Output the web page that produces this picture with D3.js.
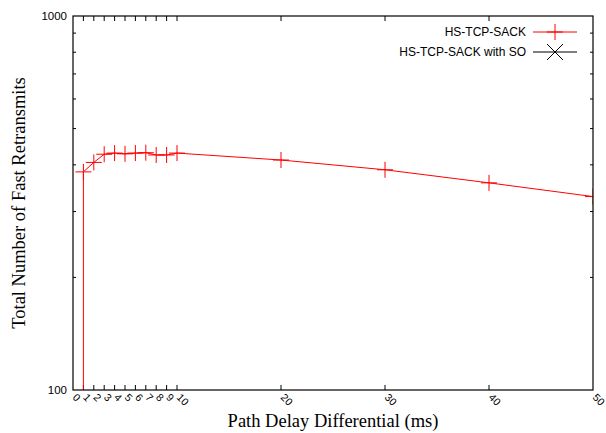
<!DOCTYPE html>
<html>
<head>
<meta charset="utf-8">
<script src="https://cdn.jsdelivr.net/npm/d3@7"></script>
<style>
  body { margin: 0; background: #fff; }
  svg { display: block; }
</style>
</head>
<body>
<div id="chart"></div>
<script>
// data
var delays = [1, 1, 2, 3, 4, 5, 6, 7, 8, 9, 10, 20, 30, 40, 50]
var retransmits = [1, 383, 406, 427, 430, 428, 430, 431, 425, 425, 430, 412, 388, 358, 329]
var xTickValues = [0, 1, 2, 3, 4, 5, 6, 7, 8, 9, 10, 20, 30, 40, 50]
var yMajor = [100, 1000]
var yMinor = [200, 300, 400, 500, 600, 700, 800, 900]
var legendNames = ["HS-TCP-SACK", "HS-TCP-SACK with SO"]
var legendColors = ["#ff0000", "#000000"]

var W = 606, H = 433
var m = {left: 73, top: 16, right: 13, bottom: 43}
var pw = W - m.left - m.right
var ph = H - m.top - m.bottom

var svg = d3.select("#chart").append("svg")
  .attr("width", W).attr("height", H)

var x = d3.scaleLinear().domain([0, 50]).range([m.left, m.left + pw])
var y = d3.scaleLog().domain([100, 1000]).range([m.top + ph, m.top])

svg.append("defs").append("clipPath").attr("id", "plotclip")
  .append("rect").attr("x", m.left).attr("y", m.top).attr("width", pw).attr("height", ph)

var sans = "Liberation Sans, Arial, sans-serif"
var serif = "Liberation Serif, Times New Roman, serif"

// ticks: bottom + mirrored top, left + mirrored right
var g = svg.append("g").attr("stroke", "#000").attr("stroke-width", 1)
xTickValues.forEach(function(v) {
  if (v == 0 || v == 50) return
  g.append("line").attr("x1", x(v)).attr("x2", x(v)).attr("y1", m.top + ph).attr("y2", m.top + ph - 5)
  g.append("line").attr("x1", x(v)).attr("x2", x(v)).attr("y1", m.top).attr("y2", m.top + 5)
})
yMinor.forEach(function(v) {
  g.append("line").attr("x1", m.left).attr("x2", m.left + 3).attr("y1", y(v)).attr("y2", y(v))
  g.append("line").attr("x1", m.left + pw).attr("x2", m.left + pw - 3).attr("y1", y(v)).attr("y2", y(v))
})

// y tick labels
yMajor.forEach(function(v) {
  svg.append("text")
    .attr("x", m.left - 6).attr("y", y(v) + 4)
    .attr("text-anchor", "end")
    .style("font-family", sans).style("font-size", "11.5px")
    .text(v)
})

// x tick labels, rotated
xTickValues.forEach(function(v) {
  svg.append("text")
    .attr("transform", "translate(" + (x(v) - 1) + "," + (m.top + ph + 8) + ") rotate(45)")
    .attr("text-anchor", "start")
    .style("font-family", sans).style("font-size", "10.5px")
    .text(v)
})

// series
var pts = delays.map(function(d, i) { return [d, retransmits[i]] })
var plot = svg.append("g").attr("clip-path", "url(#plotclip)")
plot.append("path")
  .datum(pts)
  .attr("fill", "none").attr("stroke", legendColors[0]).attr("stroke-width", 1)
  .attr("d", d3.line().x(function(d) { return x(d[0]) }).y(function(d) { return y(d[1]) }))

var s = 8
pts.forEach(function(d) {
  var cx = x(d[0]), cy = y(d[1])
  plot.append("path")
    .attr("d", "M" + (cx - s) + "," + cy + "H" + (cx + s) + "M" + cx + "," + (cy - s) + "V" + (cy + s))
    .attr("stroke", legendColors[0]).attr("stroke-width", 1).attr("fill", "none")
})

// frame
svg.append("rect")
  .attr("x", m.left).attr("y", m.top).attr("width", pw).attr("height", ph)
  .attr("fill", "none").attr("stroke", "#000").attr("stroke-width", 1.2)

// legend
legendNames.forEach(function(name, i) {
  var ly = 32 + i * 20
  svg.append("text")
    .attr("x", 526).attr("y", ly + 4)
    .attr("text-anchor", "end")
    .style("font-family", sans).style("font-size", "12px")
    .text(name)
  svg.append("line")
    .attr("x1", 533).attr("x2", 577).attr("y1", ly).attr("y2", ly)
    .attr("stroke", legendColors[i]).attr("stroke-width", 1)
  var cx = 555
  var d = i == 0
    ? "M" + (cx - s) + "," + ly + "H" + (cx + s) + "M" + cx + "," + (ly - s) + "V" + (ly + s)
    : "M" + (cx - s) + "," + (ly - s) + "L" + (cx + s) + "," + (ly + s) + "M" + (cx - s) + "," + (ly + s) + "L" + (cx + s) + "," + (ly - s)
  svg.append("path").attr("d", d).attr("stroke", legendColors[i]).attr("fill", "none").attr("stroke-width", 1)
})

// axis titles
svg.append("text")
  .attr("x", 333).attr("y", 427)
  .attr("text-anchor", "middle")
  .style("font-family", serif).style("font-size", "18.5px")
  .text("Path Delay Differential (ms)")

svg.append("text")
  .attr("transform", "translate(25," + (m.top + ph / 2) + ") rotate(-90)")
  .attr("text-anchor", "middle")
  .style("font-family", serif).style("font-size", "18.5px")
  .text("Total Number of Fast Retransmits")
</script>
</body>
</html>
